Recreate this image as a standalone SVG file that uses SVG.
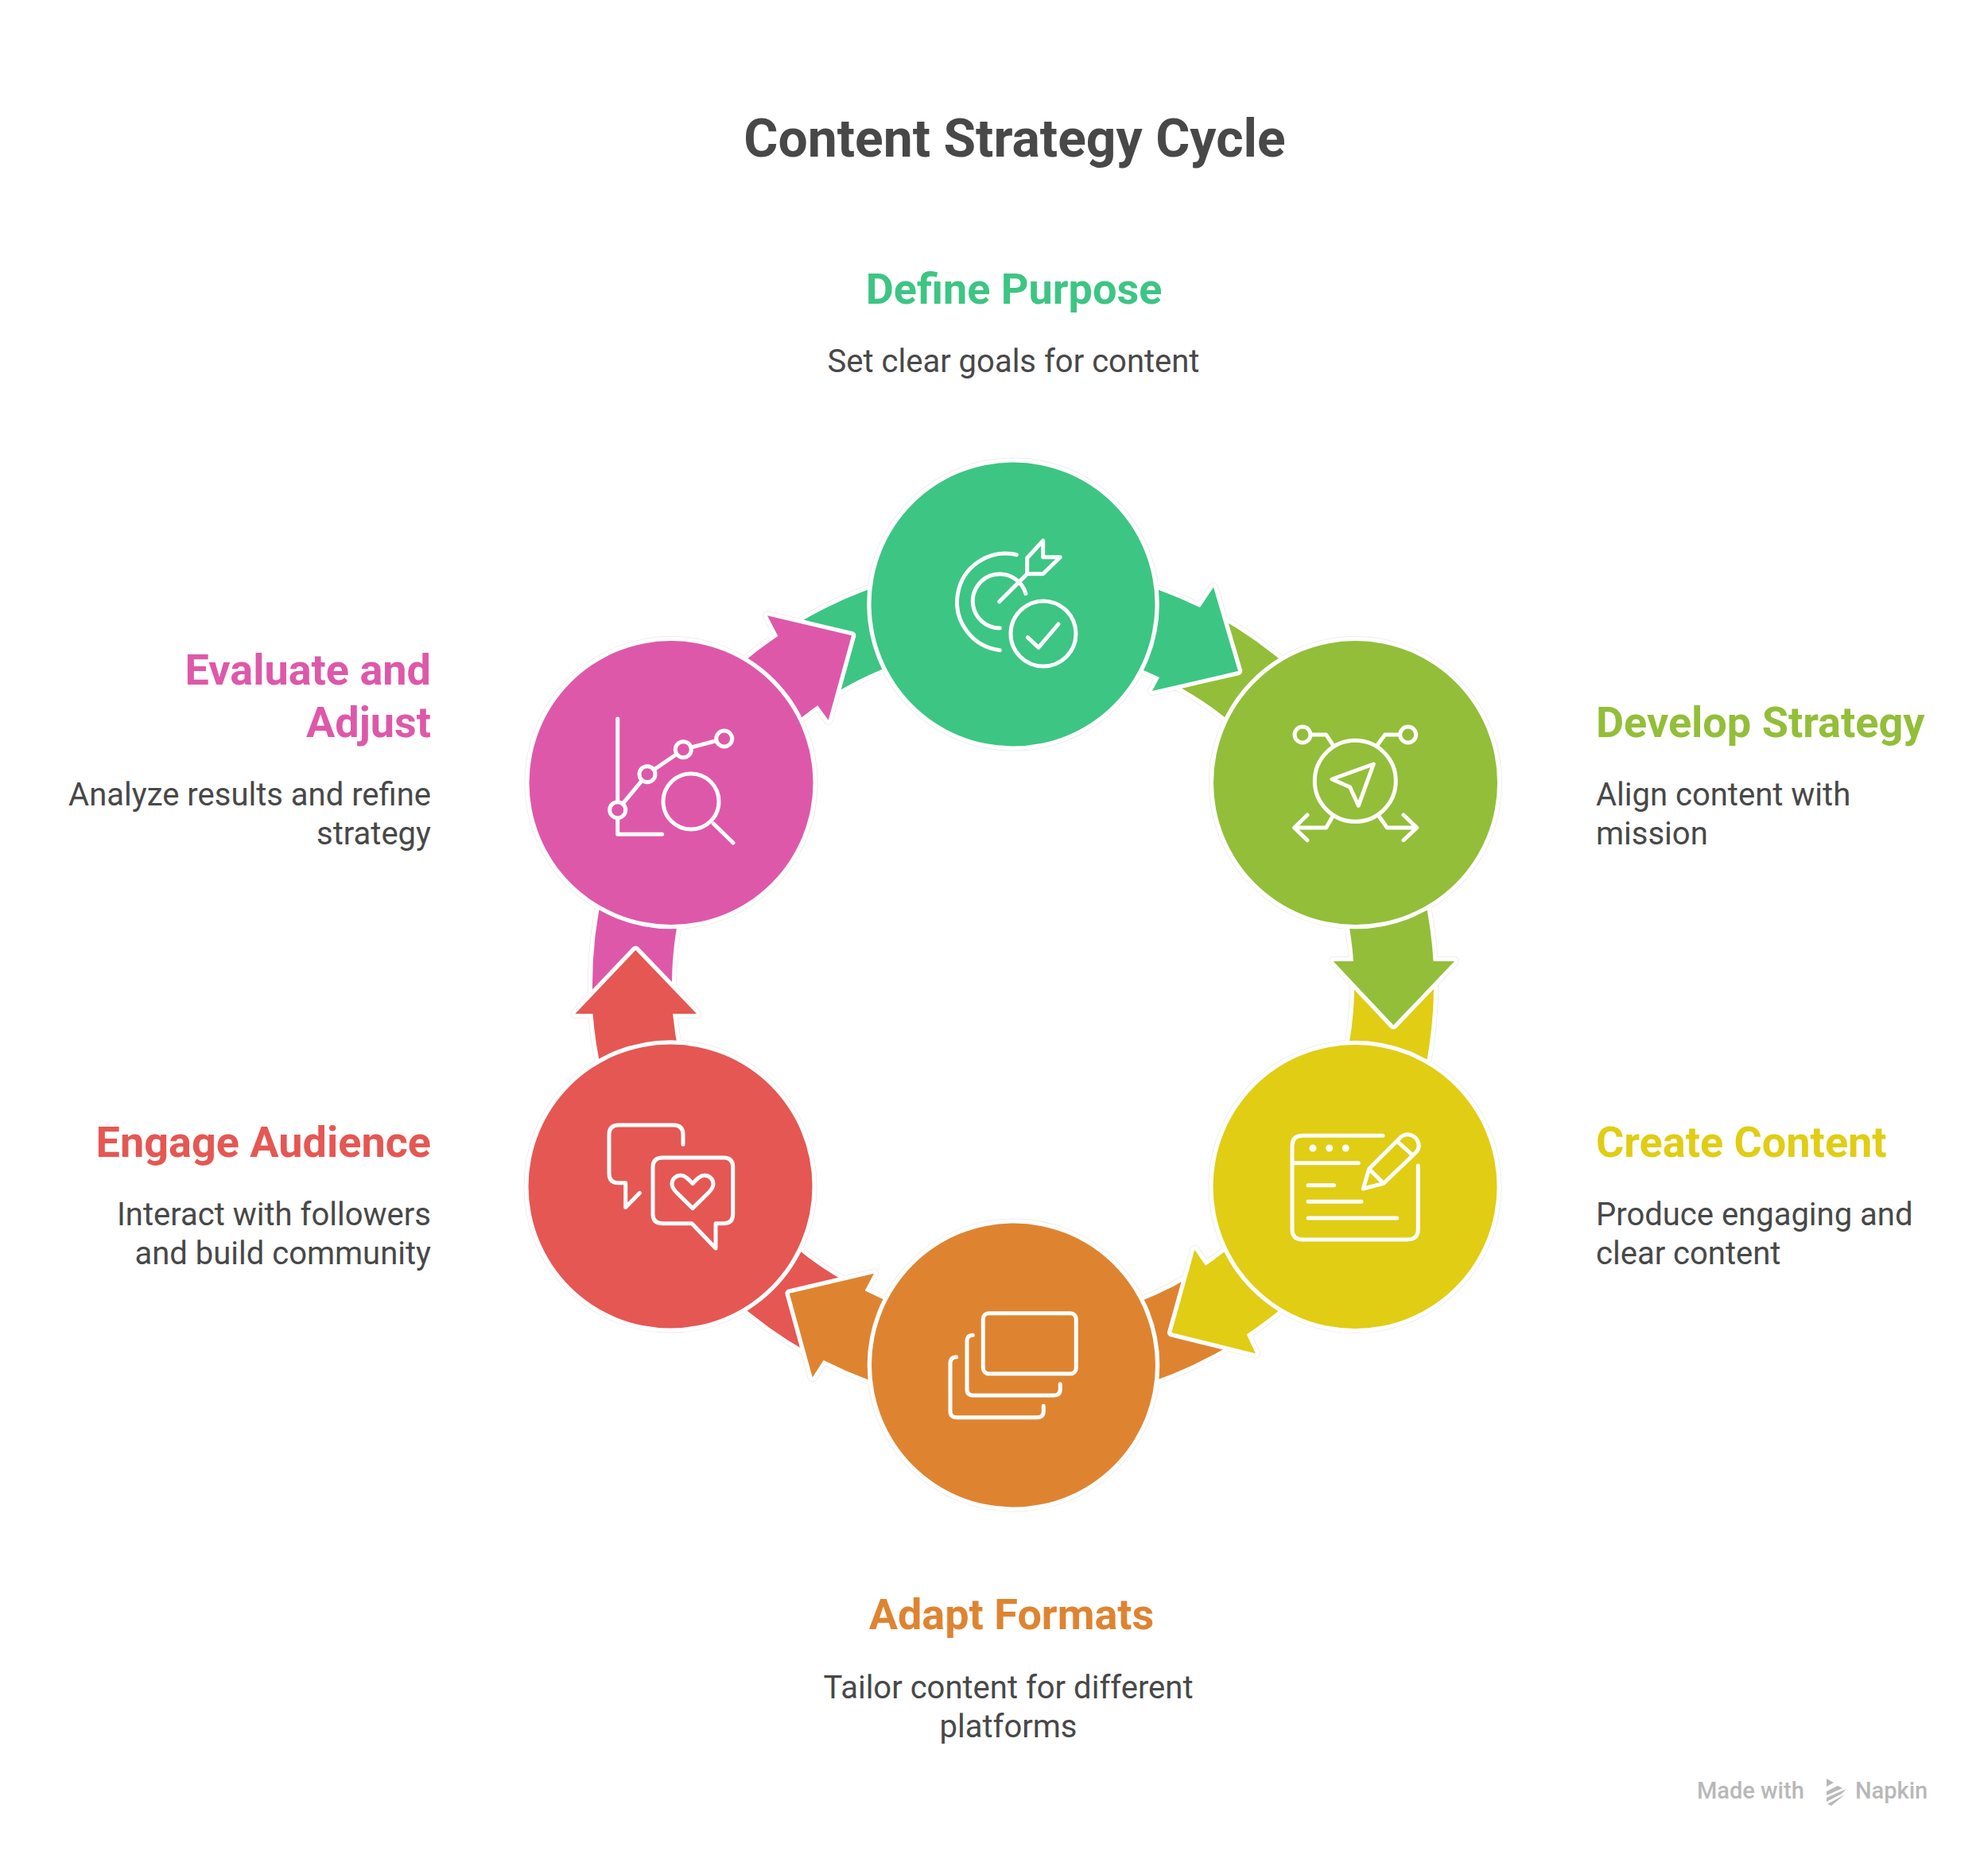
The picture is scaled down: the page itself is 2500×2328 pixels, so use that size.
<svg xmlns="http://www.w3.org/2000/svg" width="2500" height="2328" viewBox="0 0 2500 2328">
<style>
text{font-family:Roboto,"Liberation Sans",sans-serif}
.title{font-size:66px;font-weight:700;fill:#484848;text-anchor:middle}
.h{font-size:54px;font-weight:700}
.b{font-size:40px;font-weight:400;fill:#484848}
.e{text-anchor:end}.m{text-anchor:middle}
.s{stroke:#fff;stroke-width:10.6;paint-order:stroke;stroke-linejoin:round}
.halo{fill:none;stroke:#e8e8e8;stroke-width:12;stroke-linejoin:round}
.ic{fill:none;stroke:#fff;stroke-width:5;stroke-linecap:round;stroke-linejoin:round}
.wm{font-size:29px;fill:#b8b8b8;font-weight:500}
.c1{fill:#3dc584}.c2{fill:#93be39}.c3{fill:#e0cd14}.c4{fill:#de8431}.c5{fill:#e55753}.c6{fill:#de58a9}
</style>
<rect width="2500" height="2328" fill="#fff"/>
<text class="title" x="1276" y="197">Content Strategy Cycle</text>
<path class="halo" d="M1000 786A529 529 0 0 1 1130 729L1150 827.6A429 429 0 0 0 1045 875ZM1530 775A529 529 0 0 1 1628 845.4L1602.6 962.7A429 429 0 0 0 1470 857ZM1802.8 1225A529 529 0 0 1 1788.9 1360L1685.4 1360A429 429 0 0 0 1703 1225ZM1550 1690A529 529 0 0 1 1420 1747L1400 1648.5A429 429 0 0 0 1500 1604ZM1018 1702A529 529 0 0 1 920 1631.6L945.4 1514.3A429 429 0 0 0 1078 1620ZM745.4 1260A529 529 0 0 1 759.1 1117L862.6 1117A429 429 0 0 0 845.5 1260ZM1400 725A529 529 0 0 1 1509 764L1526 738.5L1557 844L1449 869L1458 852A429 429 0 0 0 1380 823ZM1791.4 1128.5A529 529 0 0 1 1802.5 1209L1829 1209L1752.3 1289.3L1676.7 1209L1702 1209A429 429 0 0 0 1693.6 1149.3ZM1669.3 1590A529 529 0 0 1 1567.7 1678.3L1579 1702.3L1473.3 1676L1502.3 1571.7L1516 1591.7A429 429 0 0 0 1597.7 1520ZM1150 1753A529 529 0 0 1 1035.7 1710.7L1021.7 1732.3L992.7 1626.7L1099 1601.7L1087.7 1623.3A429 429 0 0 0 1170 1655ZM756.6 1348.5A529 529 0 0 1 745.5 1275L723.3 1275L799.3 1195L876 1275L846 1275A429 429 0 0 0 854.4 1327.7ZM878.7 887A529 529 0 0 1 978.3 800L965 774.3L1071 799.3L1041.7 905.7L1028.3 887.3A429 429 0 0 0 950.3 957ZM1095.5 760a178.5 178.5 0 1 0 357 0a178.5 178.5 0 1 0 -357 0ZM1526 984.5a178.5 178.5 0 1 0 357 0a178.5 178.5 0 1 0 -357 0ZM1525.5 1492.5a178.5 178.5 0 1 0 357 0a178.5 178.5 0 1 0 -357 0ZM1096 1717a178.5 178.5 0 1 0 357 0a178.5 178.5 0 1 0 -357 0ZM664.5 1492a178.5 178.5 0 1 0 357 0a178.5 178.5 0 1 0 -357 0ZM665.5 984.5a178.5 178.5 0 1 0 357 0a178.5 178.5 0 1 0 -357 0Z"/>
<g id="connectors">
<path class="s c1" d="M1000 786A529 529 0 0 1 1130 729L1150 827.6A429 429 0 0 0 1045 875Z"/>
<path class="s c2" d="M1530 775A529 529 0 0 1 1628 845.4L1602.6 962.7A429 429 0 0 0 1470 857Z"/>
<path class="s c3" d="M1802.8 1225A529 529 0 0 1 1788.9 1360L1685.4 1360A429 429 0 0 0 1703 1225Z"/>
<path class="s c4" d="M1550 1690A529 529 0 0 1 1420 1747L1400 1648.5A429 429 0 0 0 1500 1604Z"/>
<path class="s c5" d="M1018 1702A529 529 0 0 1 920 1631.6L945.4 1514.3A429 429 0 0 0 1078 1620Z"/>
<path class="s c6" d="M745.4 1260A529 529 0 0 1 759.1 1117L862.6 1117A429 429 0 0 0 845.5 1260Z"/>
<path class="s c1" d="M1400 725A529 529 0 0 1 1509 764L1526 738.5L1557 844L1449 869L1458 852A429 429 0 0 0 1380 823Z"/>
<path class="s c2" d="M1791.4 1128.5A529 529 0 0 1 1802.5 1209L1829 1209L1752.3 1289.3L1676.7 1209L1702 1209A429 429 0 0 0 1693.6 1149.3Z"/>
<path class="s c3" d="M1669.3 1590A529 529 0 0 1 1567.7 1678.3L1579 1702.3L1473.3 1676L1502.3 1571.7L1516 1591.7A429 429 0 0 0 1597.7 1520Z"/>
<path class="s c4" d="M1150 1753A529 529 0 0 1 1035.7 1710.7L1021.7 1732.3L992.7 1626.7L1099 1601.7L1087.7 1623.3A429 429 0 0 0 1170 1655Z"/>
<path class="s c5" d="M756.6 1348.5A529 529 0 0 1 745.5 1275L723.3 1275L799.3 1195L876 1275L846 1275A429 429 0 0 0 854.4 1327.7Z"/>
<path class="s c6" d="M878.7 887A529 529 0 0 1 978.3 800L965 774.3L1071 799.3L1041.7 905.7L1028.3 887.3A429 429 0 0 0 950.3 957Z"/>
</g>
<g id="node-define-purpose">
<circle class="s c1" cx="1274" cy="760" r="178.5"/>
<path class="ic" d="M1278.3 697.7A61 61 0 1 0 1257.3 817.7M1290 746.7A34 34 0 1 0 1257.3 790M1256.7 756.7L1291.7 721.7L1291.7 701.7L1311.7 680L1311.7 700.7L1333.3 700.7L1311.7 721.7L1291.7 721.7"/>
<circle class="ic" cx="1312" cy="797" r="41"/>
<path class="ic" d="M1292.3 801.7L1306 814.3L1331 785"/>
<text class="h c1 m" x="1275" y="382">Define Purpose</text>
<text class="b m" x="1274.5" y="468">Set clear goals for content</text>
</g>
<g id="node-develop-strategy">
<circle class="s c2" cx="1704.5" cy="984.5" r="178.5"/>
<circle class="ic" cx="1704.3" cy="982.3" r="51"/>
<path class="ic" d="M1727.3 961L1675 980L1697.7 990L1708.3 1013.3Z"/>
<circle class="ic" cx="1638" cy="924" r="10"/>
<circle class="ic" cx="1770.7" cy="924" r="10"/>
<path class="ic" d="M1650 924H1667.7L1676 936.7M1758 924H1741.7L1732.3 936.7M1676 1026.7L1667.7 1041H1627.7M1644 1025L1627.7 1041L1644 1056.7M1734.3 1026.7L1744.3 1041H1781.7M1765 1025L1781.7 1041L1765 1056.7"/>
<text class="h c2" x="2007" y="927">Develop Strategy</text>
<text class="b" x="2007" y="1013">Align content with</text>
<text class="b" x="2007" y="1062">mission</text>
</g>
<g id="node-create-content">
<circle class="s c3" cx="1704" cy="1492.5" r="178.5"/>
<path class="ic" d="M1739 1428.3H1638Q1625 1428.3 1625 1441V1546Q1625 1559 1638 1559H1770Q1783.3 1559 1783.3 1546V1466M1625 1462.7H1708.3M1645 1490.7H1677.7M1645 1511.3H1712M1645 1532H1756.7"/>
<circle cx="1651" cy="1444" r="4.5" fill="#fff"/><circle cx="1671.7" cy="1444" r="4.5" fill="#fff"/><circle cx="1692.3" cy="1444" r="4.5" fill="#fff"/>
<path class="ic" d="M1714.3 1495L1721.7 1470L1761.7 1430Q1771 1423 1780 1431Q1788 1441 1781 1449L1740 1488.3ZM1758.3 1436.7L1775 1451.7M1723.3 1471.7L1738.3 1486.7"/>
<text class="h c3" x="2007" y="1455">Create Content</text>
<text class="b" x="2007" y="1541">Produce engaging and</text>
<text class="b" x="2007" y="1590">clear content</text>
</g>
<g id="node-adapt-formats">
<circle class="s c4" cx="1274.5" cy="1717" r="178.5"/>
<rect class="ic" x="1236.3" y="1651.7" width="117" height="76" rx="7"/>
<path class="ic" d="M1223.3 1679.3Q1216 1679.3 1216 1687V1747Q1216 1755 1224 1755H1325Q1333.3 1755 1333.3 1747V1740.7M1202.7 1706.7Q1195 1706.7 1195 1715V1775Q1195 1782.7 1203 1782.7H1304Q1312.3 1782.7 1312.3 1775V1768.3"/>
<text class="h c4 m" x="1272" y="2049">Adapt Formats</text>
<text class="b m" x="1268" y="2136">Tailor content for different</text>
<text class="b m" x="1268" y="2185">platforms</text>
</g>
<g id="node-engage-audience">
<circle class="s c5" cx="843" cy="1492" r="178.5"/>
<path class="ic" d="M859 1439.2V1427Q859 1415 847 1415H778Q766 1415 766 1427V1476Q766 1487.8 778 1487.8H786.7V1518.4L804.3 1500.4M870 1538.7H833Q821 1538.7 821 1527V1468Q821 1456 833 1456H910Q921.7 1456 921.7 1468V1527Q921.7 1538.7 910 1538.7H900V1570Z"/>
<path class="ic" d="M871 1488.6C865 1482 861 1478.3 856 1478.3C849 1478.3 845 1484 845 1489C845 1494 848 1497 851 1500L871 1519.6L891 1500C894 1497 897 1494 897 1489C897 1484 893 1478.3 886 1478.3C881 1478.3 877 1482 871 1488.6Z"/>
<text class="h c5 e" x="542" y="1455">Engage Audience</text>
<text class="b e" x="542" y="1541">Interact with followers</text>
<text class="b e" x="542" y="1590">and build community</text>
</g>
<g id="node-evaluate-adjust">
<circle class="s c6" cx="844" cy="984.5" r="178.5"/>
<path class="ic" d="M776.7 904V1049.3H832.7M776.7 1018.7L814 973.7L859.3 942.7L910.7 929M897.3 1036L922 1060"/>
<circle class="ic c6" cx="776.7" cy="1018.7" r="10"/>
<circle class="ic c6" cx="814" cy="973.7" r="10"/>
<circle class="ic c6" cx="859.3" cy="942.7" r="10"/>
<circle class="ic c6" cx="910.7" cy="929" r="10"/>
<circle class="ic" cx="869" cy="1008" r="35"/>
<text class="h c6 e" x="542" y="861">Evaluate and</text>
<text class="h c6 e" x="542" y="927">Adjust</text>
<text class="b e" x="542" y="1013">Analyze results and refine</text>
<text class="b e" x="542" y="1062">strategy</text>
</g>
<g id="watermark">
<text class="wm" x="2134" y="2262">Made with</text>
<path fill="#b8b8b8" d="M2297 2237L2306 2242L2297 2247ZM2297 2253L2311 2246L2317 2249L2297 2258ZM2297 2261L2322 2250L2316 2256L2297 2266ZM2298 2269L2320 2257L2303 2271Z"/>
<text class="wm" x="2333" y="2262">Napkin</text>
</g>
</svg>
